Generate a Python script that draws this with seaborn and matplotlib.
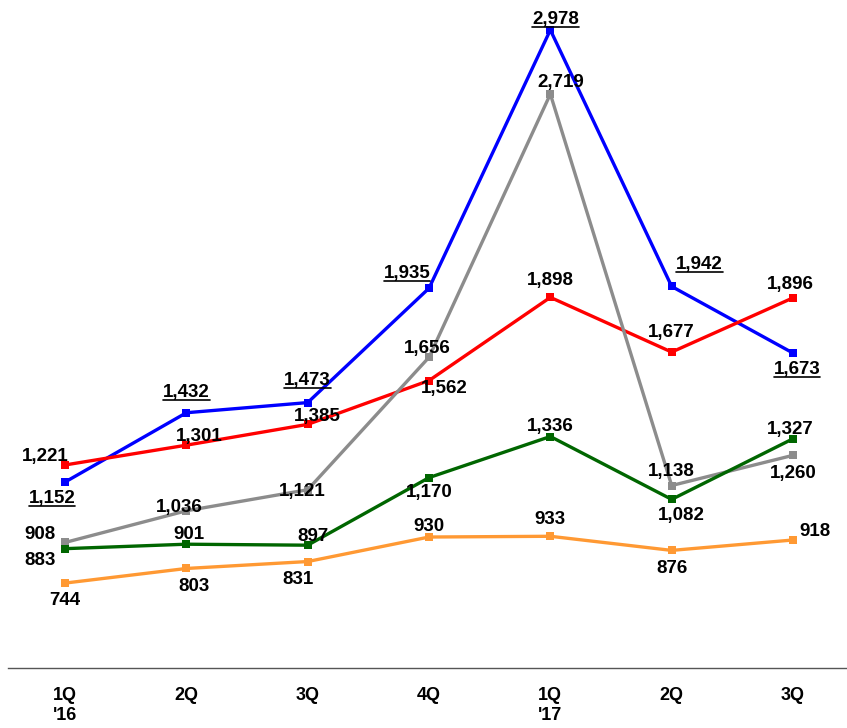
import matplotlib
matplotlib.use("Agg")
import matplotlib.pyplot as plt
import seaborn as sns
import pandas as pd

# =========================
# DATA
# =========================
quarters = ["1Q\n'16", "2Q", "3Q", "4Q", "1Q\n'17", "2Q", "3Q"]
blue_vals = [1152, 1432, 1473, 1935, 2978, 1942, 1673]
red_vals = [1221, 1301, 1385, 1562, 1898, 1677, 1896]
gray_vals = [908, 1036, 1121, 1656, 2719, 1138, 1260]
green_vals = [883, 901, 897, 1170, 1336, 1082, 1327]
orange_vals = [744, 803, 831, 930, 933, 876, 918]

# label offsets in pixels (dx, dy up)
blue_off = [(-13, -16), (0, 20), (0, 22), (-22, 15), (5, 10), (28, 22), (4, -16)]
red_off = [(-20, 8), (13, 9), (10, 8), (15, -8), (0, 17), (0, 20), (-3, 13)]
gray_off = [(-25, 8), (-7, 3), (-5, -2), (-2, 9), (10, 12), (0, 14), (0, -18)]
green_off = [(-25, -12), (3, 10), (5, 9), (0, -15), (0, 10), (10, -16), (-3, 9)]
orange_off = [(0, -17), (8, -18), (-10, -18), (0, 11), (0, 17), (0, -18), (22, 8)]

series = [
    ("blue", blue_vals, "#0000FF", blue_off, True),
    ("red", red_vals, "#FF0000", red_off, False),
    ("gray", gray_vals, "#8C8C8C", gray_off, False),
    ("green", green_vals, "#006600", green_off, False),
    ("orange", orange_vals, "#FF9933", orange_off, False),
]

sns.set_style("white")
plt.rcParams["font.family"] = ["Liberation Sans", "DejaVu Sans"]

fig = plt.figure(figsize=(8.47, 7.28), dpi=100)
ax = fig.add_axes([0, 60 / 728, 1, 668 / 728])

x = list(range(len(quarters)))
underlined = []
for name, vals, col, offs, underline in series:
    df = pd.DataFrame({"x": x, "y": vals})
    sns.lineplot(data=df, x="x", y="y", ax=ax, color=col, linewidth=2.4,
                 marker="s", markersize=5.5, markeredgewidth=0)
    for xi, v, (dx, dy) in zip(x, vals, offs):
        t = ax.annotate(f"{v:,}", (xi, v), xytext=(dx * 0.72, dy * 0.72),
                        textcoords="offset points", ha="center", va="center",
                        fontsize=13.5, fontweight="bold", color="black", zorder=5)
        if underline:
            underlined.append(t)

ax.set_xlim(-0.536, 6.445)
ax.set_ylim(401, 3099)
ax.set_yticks([])
ax.set_xticks(x)
ax.set_xticklabels(quarters, fontsize=13, fontweight="bold", va="top", color="black")
ax.tick_params(axis="x", length=0, pad=14)
ax.set_xlabel("")
ax.set_ylabel("")
for sp in ["top", "left", "right"]:
    ax.spines[sp].set_visible(False)
ax.spines["bottom"].set_color("#555555")
ax.spines["bottom"].set_linewidth(1)
ax.spines["bottom"].set_bounds(-0.47, 6.445)

# underline the blue series labels
fig.canvas.draw()
r = fig.canvas.get_renderer()
for t in underlined:
    bb = t.get_window_extent(r)
    y0 = bb.y0 + 1
    fig.add_artist(plt.Line2D([bb.x0 / fig.dpi / 8.47, bb.x1 / fig.dpi / 8.47],
                              [y0 / fig.dpi / 7.28] * 2, color="black", lw=1.2))

fig.savefig("out.png", dpi=100)
